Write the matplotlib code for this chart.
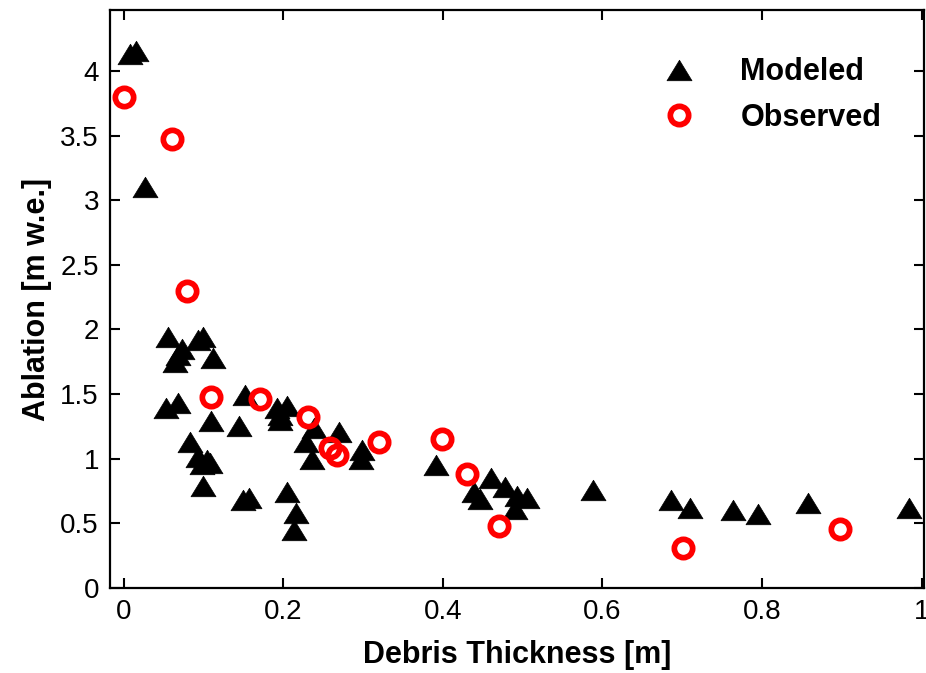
import matplotlib
matplotlib.use("Agg")
import matplotlib.pyplot as plt
from matplotlib.path import Path

plt.rcParams['font.family'] = ['Liberation Sans', 'DejaVu Sans']

# Modeled ablation vs. debris thickness
modeled_thickness = [0.008, 0.016, 0.027, 0.056, 0.073, 0.068, 0.065, 0.093, 0.100, 0.112,
                     0.053, 0.068, 0.109, 0.083, 0.093, 0.104, 0.098, 0.108, 0.100, 0.152,
                     0.192, 0.205, 0.196, 0.196, 0.144, 0.229, 0.236, 0.150, 0.157, 0.205,
                     0.216, 0.213, 0.270, 0.238, 0.299, 0.297, 0.391, 0.439, 0.447, 0.460,
                     0.478, 0.493, 0.506, 0.491, 0.588, 0.686, 0.710, 0.763, 0.795, 0.857,
                     0.984]
modeled_ablation = [4.13, 4.15, 3.10, 1.94, 1.85, 1.80, 1.75, 1.92, 1.94, 1.78,
                    1.39, 1.43, 1.29, 1.13, 1.01, 0.99, 0.96, 0.97, 0.79, 1.49,
                    1.39, 1.41, 1.34, 1.30, 1.25, 1.13, 1.00, 0.68, 0.70, 0.74,
                    0.58, 0.45, 1.21, 1.24, 1.07, 1.00, 0.95, 0.74, 0.69, 0.85,
                    0.78, 0.71, 0.70, 0.61, 0.76, 0.68, 0.62, 0.60, 0.57, 0.66,
                    0.62]

# Observed ablation vs. debris thickness
observed_thickness = [0.000, 0.061, 0.080, 0.109, 0.171, 0.231, 0.259, 0.268, 0.320,
                      0.399, 0.430, 0.470, 0.701, 0.898]
observed_ablation = [3.80, 3.47, 2.30, 1.48, 1.46, 1.32, 1.08, 1.03, 1.13,
                     1.15, 0.88, 0.48, 0.31, 0.46]

x_ticks = [0, 0.2, 0.4, 0.6, 0.8, 1.0]
x_tick_labels = ['0', '0.2', '0.4', '0.6', '0.8', '1']
y_ticks = [0, 0.5, 1, 1.5, 2, 2.5, 3, 3.5, 4]
y_tick_labels = ['0', '0.5', '1', '1.5', '2', '2.5', '3', '3.5', '4']

# Slightly flattened upward triangle
tri = Path([(0, 0.82), (-1, -0.82), (1, -0.82), (0, 0.82)],
           [Path.MOVETO, Path.LINETO, Path.LINETO, Path.CLOSEPOLY])

fig = plt.figure(figsize=(9.26, 6.73), dpi=100)
ax = fig.add_axes([0.1188, 0.1263, 0.8792, 0.8587])

ax.plot(modeled_thickness, modeled_ablation, linestyle='none', marker=tri,
        markersize=18, color='black', markeredgewidth=0.5, label='Modeled', zorder=3)
ax.plot(observed_thickness, observed_ablation, linestyle='none', marker='o',
        markersize=13.2, markerfacecolor='none', markeredgecolor='#ff0000',
        markeredgewidth=4.1, label='Observed', zorder=4)

ax.set_xlim(-0.017, 1.003)
ax.set_ylim(0, 4.47)
ax.set_xticks(x_ticks)
ax.set_xticklabels(x_tick_labels)
ax.set_yticks(y_ticks)
ax.set_yticklabels(y_tick_labels)

ax.tick_params(direction='in', length=7, width=1.5, top=True, right=True,
               labelsize=20, pad=8)
for s in ax.spines.values():
    s.set_linewidth(1.6)

ax.set_xlabel('Debris Thickness [m]', fontsize=22, fontweight='bold', labelpad=11)
ax.set_ylabel('Ablation [m w.e.]', fontsize=22, fontweight='bold', labelpad=6)

leg = ax.legend(loc='upper right', bbox_to_anchor=(0.970, 0.950), frameon=False,
                prop={'size': 22, 'weight': 'bold'}, handlelength=1.0,
                handletextpad=1.5, labelspacing=0.5, borderaxespad=0.2)

fig.savefig('out.png', dpi=100)
